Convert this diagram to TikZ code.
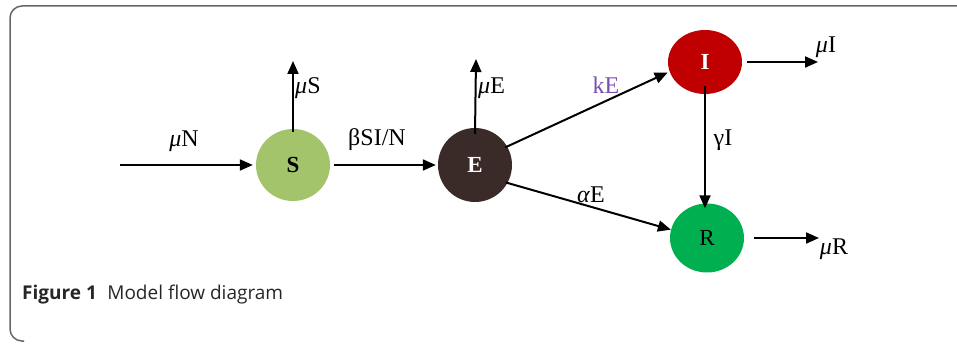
\documentclass[tikz,border=0pt]{standalone}
\usepackage{fontspec}
\setmainfont{Liberation Serif}
\newfontfamily\capfont{Open Sans}
\usetikzlibrary{arrows.meta,shapes.geometric}
\definecolor{sgreen}{HTML}{A3C46A}
\definecolor{ebrown}{HTML}{3A2A28}
\definecolor{ired}{HTML}{C00000}
\definecolor{rgreen}{HTML}{00B050}
\definecolor{kpurple}{HTML}{7B4FB0}
\begin{document}
\begin{tikzpicture}[x=1pt,y=-1pt,
  comp/.style={ellipse, minimum width=74pt, minimum height=72pt, inner sep=0pt, font=\fontsize{23}{25}\selectfont},
  flow/.style={line width=2pt, -{Triangle[length=13pt,width=11pt]}},
  lbl/.style={font=\fontsize{24}{26}\selectfont, inner sep=1pt}]
\useasboundingbox (0,0) rectangle (957,344);
\draw[line width=1.5pt, gray!80!black, rounded corners=12pt] (24,341) -- (10,341) -- (10,6) -- (957,6);
\node[comp, fill=sgreen] (S) at (293,165) {\textbf{S}};
\node[comp, fill=ebrown, text=white, minimum height=74pt] (E) at (475,165) {\textbf{E}};
\node[comp, fill=ired, text=white, minimum height=64pt] (I) at (705,62) {\textbf{I}};
\node[comp, fill=rgreen, minimum height=69pt] (R) at (707,238) {R};
\coordinate (inN) at (120,165);
\coordinate (outS) at (293,61);
\coordinate (outE) at (476,59);
\coordinate (outI) at (818,62);
\coordinate (outR) at (819,238);
\draw[flow] (inN) -- ([xshift=-3pt]S.west);
\draw[flow] ([xshift=4pt]S.east) -- ([xshift=-2pt]E.west);
\draw[flow] ([yshift=-3pt]S.north) -- (outS);
\draw[flow] ([yshift=-6pt]E.north) -- (outE);
\draw[flow] ([xshift=-2pt,yshift=-1pt]E.30) -- ([xshift=-3pt,yshift=2pt]I.200);
\draw[flow] ([xshift=-2pt]E.-28) -- (R.167);
\draw[flow] ([yshift=8pt]I.south) -- ([yshift=-5pt]I.south |- R.north);
\draw[flow] ([xshift=5pt]I.east) -- (outI);
\draw[flow] ([xshift=10pt]R.east) -- (outR);
\node[lbl] (lN) at (184,141) {\textit{μ}N};
\node[lbl] (lSI) at (377,140) {βSI/N};
\node[lbl, anchor=west] (lS) at (294,88) {\textit{μ}S};
\node[lbl, anchor=west] (lE) at (477,88) {\textit{μ}E};
\node[lbl, text=kpurple] (lk) at (606,85) {kE};
\node[lbl] (la) at (591,195) {\textit{α}E};
\node[lbl] (lg) at (723,140) {γI};
\node[lbl] (lI) at (826,47) {\textit{μ}I};
\node[lbl] (lR) at (834,249) {\textit{μ}R};
\node[anchor=base west, inner sep=0pt, font=\capfont\fontsize{19}{21}\selectfont, text=black!85] (cap) at (22,299) {\textbf{Figure 1}\hspace{0.55em}Model flow diagram};
\end{tikzpicture}
\end{document}
